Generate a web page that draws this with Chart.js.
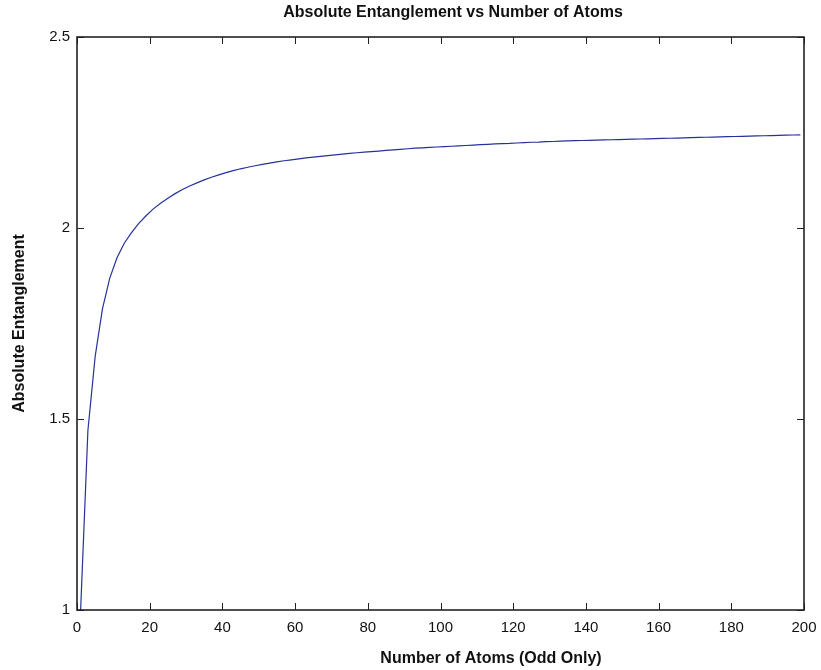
<!DOCTYPE html>
<html>
<head>
<meta charset="utf-8">
<script src="https://cdn.jsdelivr.net/npm/chart.js@4/dist/chart.umd.min.js"></script>
<style>
  html, body { margin: 0; padding: 0; background: #fff; }
  #wrap { width: 821px; height: 670px; }
</style>
</head>
<body>
<div id="wrap"><canvas id="myChart" width="821" height="670"></canvas></div>
<script>
// number of atoms (odd only)
var atoms = [
  1, 3, 5, 7, 9, 11, 13, 15, 17, 19,
  21, 23, 25, 27, 29, 31, 33, 35, 37, 39,
  41, 43, 45, 47, 49, 51, 53, 55, 57, 59,
  61, 63, 65, 67, 69, 71, 73, 75, 77, 79,
  81, 83, 85, 87, 89, 91, 93, 95, 97, 99,
  101, 103, 105, 107, 109, 111, 113, 115, 117, 119,
  121, 123, 125, 127, 129, 131, 133, 135, 137, 139,
  141, 143, 145, 147, 149, 151, 153, 155, 157, 159,
  161, 163, 165, 167, 169, 171, 173, 175, 177, 179,
  181, 183, 185, 187, 189, 191, 193, 195, 197, 199
];

// absolute entanglement
var entanglement = [
  1.000, 1.470, 1.664, 1.788, 1.868, 1.922, 1.960, 1.988, 2.012, 2.032,
  2.050, 2.065, 2.078, 2.090, 2.101, 2.110, 2.118, 2.126, 2.133, 2.139,
  2.145, 2.150, 2.155, 2.159, 2.163, 2.1665, 2.170, 2.173, 2.176, 2.1785,
  2.181, 2.1835, 2.1855, 2.1875, 2.1895, 2.1915, 2.1935, 2.1955, 2.197, 2.1985,
  2.200, 2.2015, 2.203, 2.2045, 2.206, 2.2075, 2.209, 2.210, 2.211, 2.212,
  2.213, 2.214, 2.215, 2.216, 2.217, 2.218, 2.219, 2.220, 2.221, 2.2215,
  2.2225, 2.2235, 2.2245, 2.225, 2.226, 2.2265, 2.2275, 2.228, 2.2285, 2.229,
  2.2295, 2.230, 2.2305, 2.231, 2.2315, 2.232, 2.2325, 2.233, 2.2335, 2.234,
  2.2345, 2.235, 2.2355, 2.236, 2.2365, 2.237, 2.2375, 2.238, 2.2385, 2.239,
  2.2395, 2.240, 2.2405, 2.241, 2.2415, 2.242, 2.2425, 2.243, 2.2435, 2.244
];

var xTicks = [0, 20, 40, 60, 80, 100, 120, 140, 160, 180, 200];
var yTicks = [1, 1.5, 2, 2.5];

var titleText = 'Absolute Entanglement vs Number of Atoms';
var xLabel = 'Number of Atoms (Odd Only)';
var yLabel = 'Absolute Entanglement';

var points = atoms.map(function (n, i) {
  return { x: n, y: entanglement[i] };
});

// matlab style box, inward ticks and labels
var matlabFrame = {
  id: 'matlabFrame',
  afterDatasetsDraw: function (chart) {
    var c = chart.ctx;
    var a = chart.chartArea;
    var sx = chart.scales.x;
    var sy = chart.scales.y;
    var len = 7;
    c.save();
    c.strokeStyle = '#222';
    c.lineWidth = 1;
    xTicks.forEach(function (v) {
      var px = Math.round(sx.getPixelForValue(v)) + 0.5;
      c.beginPath();
      c.moveTo(px, a.bottom); c.lineTo(px, a.bottom - len);
      c.moveTo(px, a.top); c.lineTo(px, a.top + len);
      c.stroke();
    });
    yTicks.forEach(function (v) {
      var py = Math.round(sy.getPixelForValue(v)) + 0.5;
      c.beginPath();
      c.moveTo(a.left, py); c.lineTo(a.left + len, py);
      c.moveTo(a.right, py); c.lineTo(a.right - len, py);
      c.stroke();
    });
    c.lineWidth = 1.6;
    c.strokeRect(a.left, a.top, a.right - a.left, a.bottom - a.top);
    c.restore();
  },
  afterDraw: function (chart) {
    var c = chart.ctx;
    var a = chart.chartArea;
    c.save();
    c.fillStyle = '#111';
    c.font = 'bold 16px "Liberation Sans", Arial, sans-serif';
    c.textAlign = 'center';
    c.textBaseline = 'middle';
    c.fillText(titleText, 453, 13);
    c.fillText(xLabel, 491, 659);
    c.translate(20, (a.top + a.bottom) / 2);
    c.rotate(-Math.PI / 2);
    c.fillText(yLabel, 0, 0);
    c.restore();
  }
};

var ctx = document.getElementById('myChart');
var myChart = new Chart(ctx, {
  type: 'line',
  data: {
    datasets: [
      {
        label: yLabel,
        data: points,
        borderColor: '#25329a',
        borderWidth: 1.2,
        pointRadius: 0,
        tension: 0,
        fill: false
      }
    ]
  },
  options: {
    responsive: false,
    animation: false,
    layout: {
      padding: { left: 0, right: 17, top: 37, bottom: 0 }
    },
    plugins: {
      legend: { display: false },
      tooltip: { enabled: false }
    },
    scales: {
      x: {
        type: 'linear',
        min: 0,
        max: 200,
        afterFit: function (s) {
          s.height = 60;
          s.paddingLeft = 0;
          s.paddingRight = 0;
        },
        afterBuildTicks: function (s) {
          s.ticks = xTicks.map(function (v) { return { value: v }; });
        },
        grid: { display: false, drawTicks: false },
        border: { display: false },
        ticks: {
          padding: 9,
          color: '#111',
          maxRotation: 0,
          autoSkip: false,
          font: { family: '"Liberation Sans", Arial, sans-serif', size: 15 }
        }
      },
      y: {
        min: 1,
        max: 2.5,
        afterFit: function (s) {
          s.width = 77;
          s.paddingTop = 0;
          s.paddingBottom = 0;
        },
        afterBuildTicks: function (s) {
          s.ticks = yTicks.map(function (v) { return { value: v }; });
        },
        grid: { display: false, drawTicks: false },
        border: { display: false },
        ticks: {
          padding: 7,
          color: '#111',
          callback: function (v) { return String(v); },
          font: { family: '"Liberation Sans", Arial, sans-serif', size: 15 }
        }
      }
    }
  },
  plugins: [matlabFrame]
});
</script>
</body>
</html>
